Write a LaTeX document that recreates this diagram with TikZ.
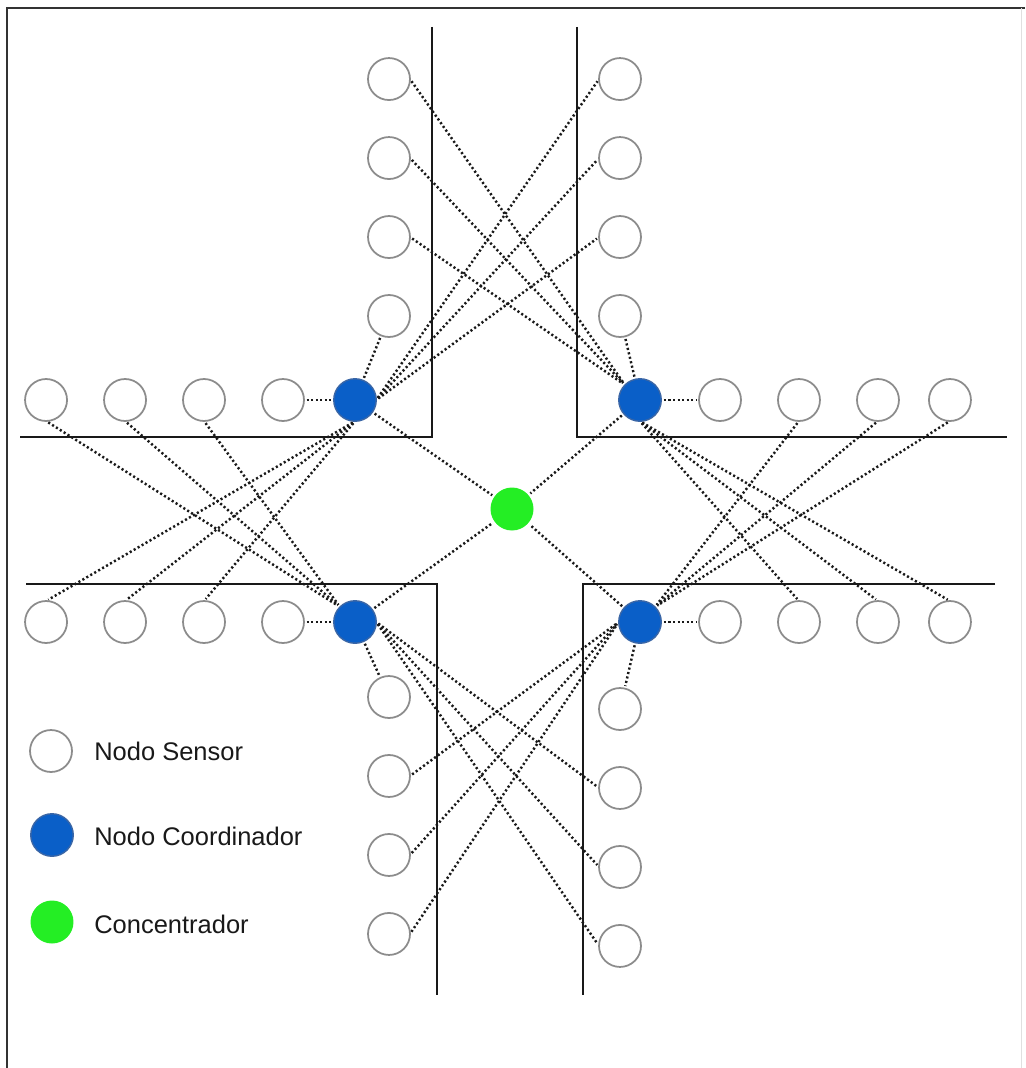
\documentclass[tikz,border=0pt]{standalone}
\usepackage{fontspec}
\setmainfont{Liberation Sans}
\usepackage{xcolor}
\usepackage{tikz}
\usetikzlibrary{positioning}

\definecolor{coordblue}{HTML}{0A5FC8}
\definecolor{coordedge}{HTML}{3A66A6}
\definecolor{hubgreen}{HTML}{24EE24}

\begin{document}
\begin{tikzpicture}[
        x=0.02cm, y=-0.02cm,
        node distance=0.74cm,
        sensor/.style={circle, draw=black!45, fill=white, line width=1pt, minimum size=0.84cm, inner sep=0pt, outer sep=0pt},
        coordnode/.style={circle, draw=coordedge, fill=coordblue, line width=0.8pt, minimum size=0.85cm, inner sep=0pt, outer sep=0pt},
        hub/.style={circle, fill=hubgreen, minimum size=0.86cm, inner sep=0pt, outer sep=0pt},
        road/.style={line width=1.1pt, black!90},
        link/.style={line width=1.4pt, dash pattern=on 1.2pt off 1.4pt, black!90, shorten <=1.5pt, shorten >=1.5pt},
        legtext/.style={anchor=base west, inner sep=0pt, text=black!90, font=\fontsize{14.5pt}{17pt}\selectfont}
    ]

    \useasboundingbox (0,0) rectangle (1025,1068);

    % Frame
    \draw[line width=1.4pt, black!80] (7,1068) -- (7,8) -- (1025,8);
    \draw[black!12] (1021,8) -- (1021,1068);

    % Street corners
    \draw[road] (432,27) -- (432,437) -- (20,437);
    \draw[road] (577,27) -- (577,437) -- (1007,437);
    \draw[road] (26,584) -- (437,584) -- (437,995);
    \draw[road] (995,584) -- (583,584) -- (583,995);

    % Coordinators and concentrator
    \node[coordnode] (coordNO) at (355,400) {};
    \node[coordnode] (coordNE) at (640,400) {};
    \node[coordnode] (coordSO) at (355,622) {};
    \node[coordnode] (coordSE) at (640,622) {};
    \node[hub] (conc) at (512,509) {};

    % Sensors, north-west corner
    \node[sensor] (no-h4) at (283,400) {};
    \node[sensor, left=of no-h4] (no-h3) {};
    \node[sensor, left=of no-h3] (no-h2) {};
    \node[sensor, left=of no-h2] (no-h1) {};
    \node[sensor] (no-v4) at (389,316) {};
    \node[sensor, above=of no-v4] (no-v3) {};
    \node[sensor, above=of no-v3] (no-v2) {};
    \node[sensor, above=of no-v2] (no-v1) {};

    % Sensors, north-east corner
    \node[sensor] (ne-h1) at (720,400) {};
    \node[sensor, right=of ne-h1] (ne-h2) {};
    \node[sensor, right=of ne-h2] (ne-h3) {};
    \node[sensor, right=of ne-h3, xshift=-0.14cm] (ne-h4) {};
    \node[sensor] (ne-v4) at (620,316) {};
    \node[sensor, above=of ne-v4] (ne-v3) {};
    \node[sensor, above=of ne-v3] (ne-v2) {};
    \node[sensor, above=of ne-v2] (ne-v1) {};

    % Sensors, south-west corner
    \node[sensor] (so-h4) at (283,622) {};
    \node[sensor, left=of so-h4] (so-h3) {};
    \node[sensor, left=of so-h3] (so-h2) {};
    \node[sensor, left=of so-h2] (so-h1) {};
    \node[sensor] (so-v1) at (389,697) {};
    \node[sensor, below=of so-v1] (so-v2) {};
    \node[sensor, below=of so-v2] (so-v3) {};
    \node[sensor, below=of so-v3] (so-v4) {};

    % Sensors, south-east corner
    \node[sensor] (se-h1) at (720,622) {};
    \node[sensor, right=of se-h1] (se-h2) {};
    \node[sensor, right=of se-h2] (se-h3) {};
    \node[sensor, right=of se-h3, xshift=-0.14cm] (se-h4) {};
    \node[sensor] (se-v1) at (620,709) {};
    \node[sensor, below=of se-v1] (se-v2) {};
    \node[sensor, below=of se-v2] (se-v3) {};
    \node[sensor, below=of se-v3] (se-v4) {};

    % Nearest sensors
    \draw[link] (no-h4) -- (coordNO);
    \draw[link] (no-v4) -- (coordNO);
    \draw[link] (coordNE) -- (ne-h1);
    \draw[link] (ne-v4) -- (coordNE);
    \draw[link] (so-h4) -- (coordSO);
    \draw[link] (coordSO) -- (so-v1);
    \draw[link] (coordSE) -- (se-h1);
    \draw[link] (coordSE) -- (se-v1);

    % Coordinators to concentrator
    \draw[link] (coordNO) -- (conc);
    \draw[link] (coordNE) -- (conc);
    \draw[link] (coordSO) -- (conc);
    \draw[link] (coordSE) -- (conc);

    % Sensors across the street
    \draw[link] (coordNO.east) -- (ne-v1.west);
    \draw[link] (coordNO.east) -- (ne-v2.west);
    \draw[link] (coordNO.east) -- (ne-v3.west);
    \draw[link] (coordNO.south) -- (so-h1.north);
    \draw[link] (coordNO.south) -- (so-h2.north);
    \draw[link] (coordNO.south) -- (so-h3.north);

    \draw[link] (no-v1.east) -- (coordNE.north west);
    \draw[link] (no-v2.east) -- (coordNE.north west);
    \draw[link] (no-v3.east) -- (coordNE.north west);
    \draw[link] (coordNE.south) -- (se-h2.north);
    \draw[link] (coordNE.south) -- (se-h3.north);
    \draw[link] (coordNE.south) -- (se-h4.north);

    \draw[link] (no-h1.south) -- (coordSO.north west);
    \draw[link] (no-h2.south) -- (coordSO.north west);
    \draw[link] (no-h3.south) -- (coordSO.north west);
    \draw[link] (coordSO.east) -- (se-v2.west);
    \draw[link] (coordSO.east) -- (se-v3.west);
    \draw[link] (coordSO.east) -- (se-v4.west);

    \draw[link] (ne-h2.south) -- (coordSE.north east);
    \draw[link] (ne-h3.south) -- (coordSE.north east);
    \draw[link] (ne-h4.south) -- (coordSE.north east);
    \draw[link] (so-v2.east) -- (coordSE.west);
    \draw[link] (so-v3.east) -- (coordSE.west);
    \draw[link] (so-v4.east) -- (coordSE.west);

    % Legend
    \node[sensor] (leg-sensor) at (51,751) {};
    \node[coordnode] (leg-coord) at (52,835) {};
    \node[hub] (leg-hub) at (52,922) {};
    \node[legtext] (leg-sensor-txt) at (94,760) {Nodo Sensor};
    \node[legtext] (leg-coord-txt) at (94,845) {Nodo Coordinador};
    \node[legtext] (leg-hub-txt) at (94,933) {Concentrador};

\end{tikzpicture}
\end{document}
